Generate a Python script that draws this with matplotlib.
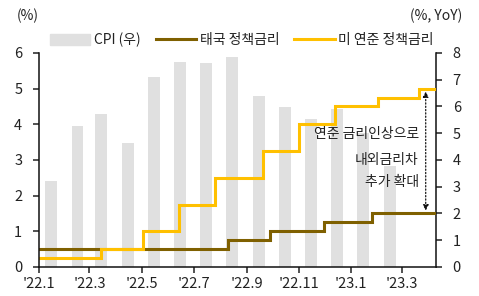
import numpy as np
import pandas as pd
import matplotlib
matplotlib.use("Agg")
import matplotlib.pyplot as plt
from matplotlib.patches import Patch
from matplotlib.lines import Line2D

plt.rcParams["font.family"] = ["Noto Sans CJK KR", "DejaVu Sans"]

# Thai CPI, monthly (% YoY, right axis), plotted at mid-month
cpi_months = pd.date_range("2022-01-01", periods=14, freq="MS") + pd.Timedelta(days=14)
cpi_values = [3.23, 5.28, 5.73, 4.65, 7.10, 7.66, 7.61, 7.86,
              6.41, 5.98, 5.55, 5.89, 5.02, 3.79]

# Policy rates (%, left axis), value from each change date
thai_dates = pd.to_datetime(["2022-01-01", "2022-08-10", "2022-09-28",
                             "2022-11-30", "2023-01-25"])
thai_rates = [0.5, 0.75, 1.0, 1.25, 1.5]

fed_dates = pd.to_datetime(["2022-01-01", "2022-03-15", "2022-05-03",
                            "2022-06-14", "2022-07-26", "2022-09-20",
                            "2022-11-01", "2022-12-13", "2023-02-01",
                            "2023-03-21"])
fed_rates = [0.25, 0.5, 1.0, 1.75, 2.5, 3.25, 4.0, 4.5, 4.75, 5.0]

tick_dates = pd.date_range("2022-01-01", "2023-03-01", freq="2MS")
tick_labels = ["'22.1", "'22.3", "'22.5", "'22.7", "'22.9", "'22.11",
               "'23.1", "'23.3"]

x_start = pd.Timestamp("2022-01-01")
x_end = pd.Timestamp("2023-04-10")

c_bar = "#e0e0e0"
c_thai = "#7f6000"
c_fed = "#ffc000"
c_text = "#222222"

fig = plt.figure(figsize=(4.79, 2.96), dpi=100)
ax = fig.add_axes([0.0814, 0.098, 0.8288, 0.723])
ax2 = ax.twinx()
ax.set_zorder(ax2.get_zorder() + 1)
ax.patch.set_visible(False)

ax2.bar(cpi_months, cpi_values, width=14, color=c_bar, zorder=1)

def extend(dates, vals):
    return list(dates) + [x_end], list(vals) + [vals[-1]]

xd, yd = extend(thai_dates, thai_rates)
ax.step(xd, yd, where="post", color=c_thai, lw=2.2, solid_joinstyle="miter")
xd, yd = extend(fed_dates, fed_rates)
ax.step(xd, yd, where="post", color=c_fed, lw=2.2, solid_joinstyle="miter")

ax.set_xlim(x_start, x_end)
ax.set_ylim(0, 6)
ax2.set_ylim(0, 8)
ax.set_yticks(range(0, 7))
ax2.set_yticks(range(0, 9))
ax.set_xticks(tick_dates)
ax.set_xticklabels(tick_labels)

for a in (ax, ax2):
    a.spines["top"].set_visible(False)
    for s in ("left", "right", "bottom"):
        a.spines[s].set_linewidth(1.1)
        a.spines[s].set_color("#111111")
    a.tick_params(labelsize=10.5, colors=c_text, length=4, width=1.1, pad=3)
ax.spines["right"].set_visible(False)
ax2.spines["left"].set_visible(False)
ax2.spines["bottom"].set_visible(False)
ax.tick_params(axis="y", pad=8)
ax2.tick_params(axis="y", pad=8)

# annotation arrow between the two rates
arrow_x = pd.Timestamp("2023-03-29")
ax.annotate("", xy=(arrow_x, 1.58), xytext=(arrow_x, 4.92),
            arrowprops=dict(arrowstyle="<|-|>", color="#111111", lw=0.9,
                            linestyle=":", mutation_scale=8,
                            shrinkA=0, shrinkB=0))
note_x = pd.Timestamp("2023-03-21")
for txt, yv in zip(["연준 금리인상으로", "내외금리차", "추가 확대"],
                   [3.73, 3.0, 2.39]):
    ax.text(note_x, yv, txt, ha="right", va="center", fontsize=10,
            color=c_text)

fig.text(0.035, 0.945, "(%)", fontsize=10, color=c_text, va="center")
fig.text(0.965, 0.945, "(%, YoY)", fontsize=10, color=c_text, va="center",
         ha="right")

handles = [Patch(color=c_bar), Line2D([], [], color=c_thai, lw=2.2),
           Line2D([], [], color=c_fed, lw=2.2)]
labels = ["CPI (우)", "태국 정책금리", "미 연준 정책금리"]
fig.legend(handles, labels, loc="center", bbox_to_anchor=(0.505, 0.865),
           ncol=3, frameon=False, fontsize=10, handlelength=2.9,
           handleheight=0.9, handletextpad=0.25, columnspacing=1.1,
           labelcolor=c_text)

fig.savefig("out.png", dpi=100)
